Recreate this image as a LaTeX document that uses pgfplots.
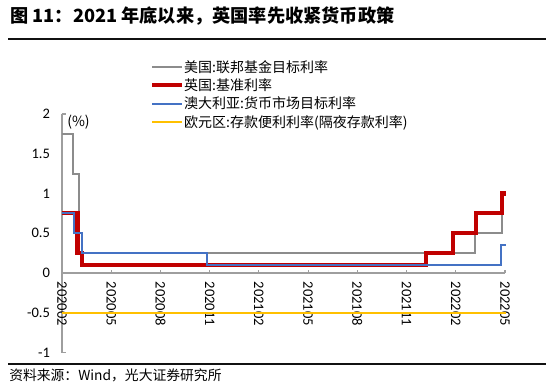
\documentclass[border=0pt]{standalone}
\usepackage{fontspec}
\usepackage{pgfplots}
\pgfplotsset{compat=1.18}
\setmainfont{Noto Sans CJK SC}
\newfontfamily\carlito{Carlito}
\definecolor{fedgray}{HTML}{8C8C8C}
\definecolor{axisgray}{HTML}{9E9E9E}
\definecolor{ukred}{HTML}{C00000}
\definecolor{aublue}{HTML}{4472C4}
\definecolor{euyellow}{HTML}{FFC000}
\definecolor{rulecol}{HTML}{111111}
\begin{document}
\begin{tikzpicture}
\useasboundingbox (0pt,0pt) rectangle (412.5pt,290.25pt);
\node[anchor=west, font=\fontsize{13.65}{16}\selectfont\bfseries, inner sep=0pt] at (7.5pt,278.25pt) {图 11：2021 年底以来，英国率先收紧货币政策};
\node[anchor=west, inner sep=0pt, outer sep=0pt] at (6pt,261pt) {\textcolor{rulecol}{\rule[-0.6pt]{403.5pt}{1.2pt}}};
\node[anchor=west, inner sep=0pt, outer sep=0pt] at (6pt,17.25pt) {\textcolor{rulecol}{\rule[-0.6pt]{403.5pt}{1.2pt}}};
\node[anchor=west, font=\fontsize{10.35}{12}\selectfont, inner sep=0pt] at (6.75pt,9pt) {资料来源：Wind，光大证券研究所};
\begin{axis}[
  at={(46.5pt,25.875pt)}, anchor=south west,
  scale only axis, width=332.25pt, height=178.9pt,
  xmin=0, xmax=27, ymin=-1, ymax=2,
  clip=false,
  axis x line*=middle, axis y line*=left,
  axis line style={draw=axisgray, line width=1.2pt},
  hide obscured x ticks=false, hide obscured y ticks=false,
  xtick={0,3,...,27},
  xticklabels={202002,202005,202008,202011,202102,202105,202108,202111,202202,202205},
  ytick={-1,-0.5,0,0.5,1,1.5,2},
  ytick style={draw=none},
  xtick style={draw=axisgray, line width=0.8pt},
  tick align=inside, major tick length=2.5pt,
  extra y ticks={-1,2}, extra y tick labels={},
  extra y tick style={ytick style={draw=axisgray, line width=1.2pt}, major tick length=3pt},
  /pgf/number format/assume math mode=true,
  /pgf/number format/fixed,
  xticklabel style={rotate=-90, anchor=west, font=\carlito\fontsize{10.9}{12}\selectfont},
  yticklabel style={font=\carlito\fontsize{10.9}{12}\selectfont},
  xticklabel shift=3pt, yticklabel shift=5.5pt,
  legend cell align=left,
  legend image code/.code={\draw[#1] (0pt,0pt) -- (22.5pt,0pt);},
  legend style={at={(axis description cs:0.1986,1.2348)}, anchor=north west,
    draw=none, fill=none, inner sep=0pt, outer sep=0pt, row sep=0pt,
    font=\fontsize{10.5}{12}\selectfont,
    nodes={inner sep=0pt, text height=10.8pt, text depth=2.9pt},
    /tikz/every even column/.append style={column sep=1.5pt}},
]
\addplot[const plot, fedgray, line width=1.5pt] coordinates {
  (0,1.75) (0.65,1.25) (1.04,0.25) (25.17,0.5) (26.81,1.0) (27.06,1.0)};
\addplot[const plot, ukred, line width=3.2pt] coordinates {
  (0,0.75) (0.95,0.25) (1.20,0.1) (22.18,0.25) (23.83,0.5) (25.23,0.75) (26.80,1.0) (27.06,1.0)};
\addplot[const plot, aublue, line width=1.5pt] coordinates {
  (0,0.75) (0.73,0.5) (1.22,0.25) (8.84,0.1) (26.73,0.35) (27.06,0.35)};
\addplot[const plot, euyellow, line width=1.5pt] coordinates {
  (0,-0.5) (27.06,-0.5)};
\legend{美国:联邦基金目标利率, 英国:基准利率, 澳大利亚:货币市场目标利率, 欧元区:存款便利利率(隔夜存款利率)}
\node[anchor=west, inner sep=0pt, font=\fontsize{10.5}{12}\selectfont] at (axis description cs:0.0113,0.9665) {(\%)};
\end{axis}
\end{tikzpicture}
\end{document}
